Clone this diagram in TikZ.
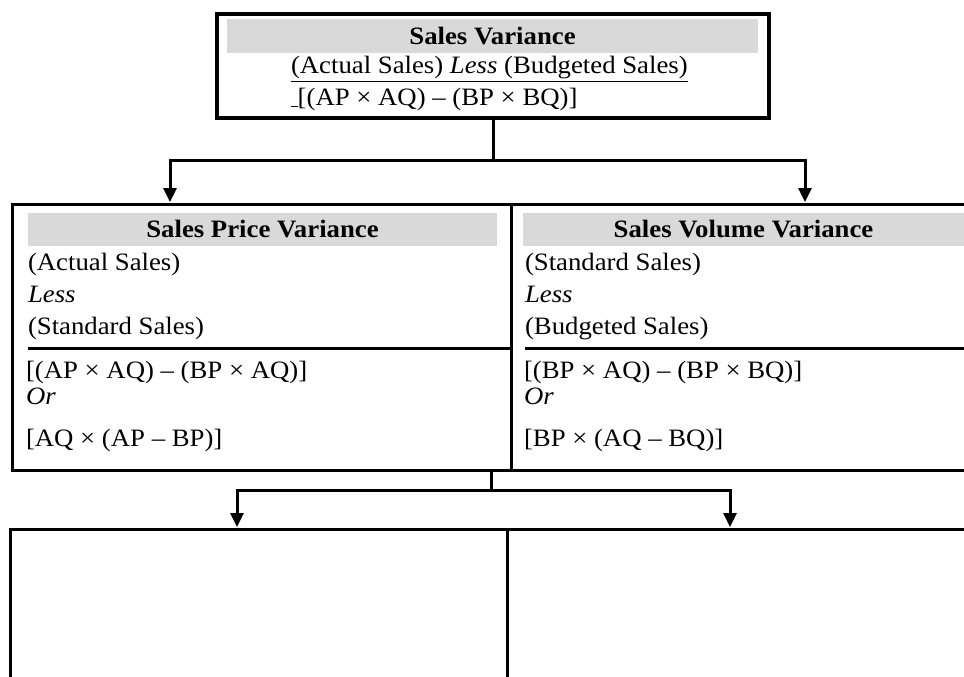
\documentclass[tikz,border=0pt]{standalone}
\usepackage{fontspec}
\setmainfont{Liberation Serif}[FakeStretch=1.07]
\usetikzlibrary{arrows.meta}
\definecolor{bandgray}{RGB}{217,217,217}
\begin{document}
\begin{tikzpicture}[x=1pt,y=-1pt,
  every node/.style={font=\fontsize{25}{29}\selectfont},
  box/.style={draw, line width=3pt, inner sep=0pt, outer sep=0pt, anchor=north west},
  band/.style={fill=bandgray, draw=none, inner sep=0pt, outer sep=0pt, anchor=north west, font=\fontsize{25}{29}\selectfont\bfseries},
  txt/.style={anchor=base west, inner sep=0pt, outer sep=0pt},
  sep/.style={line width=3pt},
  conn/.style={line width=3pt},
  arr/.style={line width=3pt, -{Triangle[width=13pt,length=14pt]}}]
\clip (0,0) rectangle (964,677);
\fill[white] (0,0) rectangle (964,677);

% top box
\node[box, line width=3.5pt, minimum width=552pt, minimum height=104pt] (top) at (217,14) {};
\node[band, minimum width=531pt, minimum height=34pt] (topband) at (227,19) {Sales Variance};
\node[txt] (topl1) at (291,74) {\underline{(Actual Sales) \textit{Less} (Budgeted Sales)}};
\node[txt] (topl2) at (291,105) {\underline{\ }[(AP × AQ) – (BP × BQ)]};

% middle boxes
\node[box, minimum width=499pt, minimum height=266pt] (spv) at (12,204) {};
\node[box, minimum width=480pt, minimum height=266pt] (svv) at (511,204) {};
\node[band, minimum width=469pt, minimum height=33pt] (spvh) at (28,213) {Sales Price Variance};
\node[band, minimum width=441pt, minimum height=33pt] (svvh) at (523,213) {Sales Volume Variance};

\node[txt] (l1) at (28,270) {(Actual Sales)};
\node[txt] (l2) at (28,302) {\textit{Less}};
\node[txt] (l3) at (28,334) {(Standard Sales)};
\node[txt] (l4) at (26,378) {[(AP × AQ) – (BP × AQ)]};
\node[txt] (l5) at (26,404) {\textit{Or}};
\node[txt] (l6) at (26,446) {[AQ × (AP – BP)]};

\node[txt] (r1) at (525,270) {(Standard Sales)};
\node[txt] (r2) at (525,302) {\textit{Less}};
\node[txt] (r3) at (525,334) {(Budgeted Sales)};
\node[txt] (r4) at (524,378) {[(BP × AQ) – (BP × BQ)]};
\node[txt] (r5) at (524,404) {\textit{Or}};
\node[txt] (r6) at (524,446) {[BP × (AQ – BQ)]};

\draw[sep] (28,348) -- (511,348);
\draw[sep] (525,348) -- (991,348);

% bottom boxes
\node[box, minimum width=497pt, minimum height=200pt] (bl) at (10,529) {};
\node[box, minimum width=480pt, minimum height=200pt] (br) at (507,529) {};

% connectors top -> middle
\coordinate (j1) at (493,160);
\coordinate (e1) at (170,202);
\coordinate (e2) at (805,202);
\draw[conn] (top.south) -- (j1);
\draw[arr] (j1) -| (e1);
\draw[arr] (j1) -| (e2);

% connectors middle -> bottom
\coordinate (s2) at (491,470);
\coordinate (j2) at (491,490);
\coordinate (e3) at (237,527);
\coordinate (e4) at (730,527);
\draw[conn] (s2) -- (j2);
\draw[arr] (j2) -| (e3);
\draw[arr] (j2) -| (e4);
\end{tikzpicture}
\end{document}
